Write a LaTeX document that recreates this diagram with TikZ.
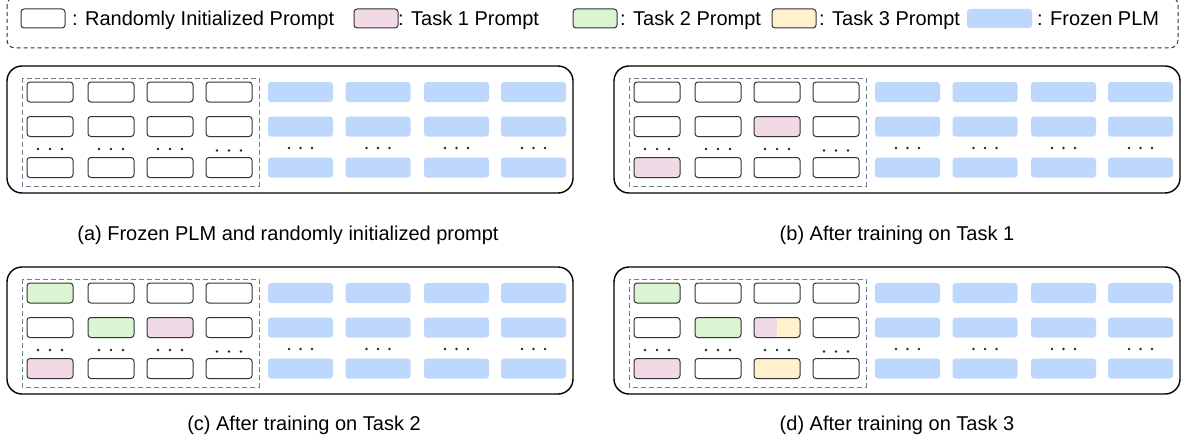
\documentclass[tikz,border=0pt]{standalone}
\usepackage{fontspec}
\setmainfont{Liberation Sans}
\definecolor{pinkc}{HTML}{F2D9E6}
\definecolor{greenc}{HTML}{DBF5D3}
\definecolor{yellowc}{HTML}{FFF1CC}
\definecolor{bluec}{HTML}{BDD7FD}
\definecolor{dashc}{HTML}{6F7D91}
\definecolor{edgec}{HTML}{333333}
\tikzset{
  pbox/.style={draw=edgec, line width=1pt, rounded corners=3pt, minimum width=46pt, minimum height=20pt, inner sep=0pt, outer sep=0pt},
  lbox/.style={pbox, minimum width=44pt, minimum height=19pt},
  fbox/.style={fill=bluec, rounded corners=3pt, minimum width=65pt, minimum height=20pt, inner sep=0pt, outer sep=0pt},
  splitfill/.style={path picture={
     \fill[pinkc] (path picture bounding box.south west) rectangle (path picture bounding box.north);
     \fill[yellowc] (path picture bounding box.south) rectangle (path picture bounding box.north east);}},
  outerbox/.style={draw=black, line width=1.4pt, rounded corners=15pt},
  innerbox/.style={draw=dashc, line width=0.9pt, dash pattern=on 5pt off 3pt},
  legendframe/.style={draw=black!80, line width=1pt, dash pattern=on 4pt off 3pt, rounded corners=8pt},
  txt/.style={font=\fontsize{20}{24}\selectfont, inner sep=0pt, text=black},
  dotc/.style={fill=black!85}
}
\def\spl{split}
\newcommand\mypanel[6]{% name, dx, dy, caption x, caption baseline y, caption
  \begin{scope}[shift={(#2,#3)}]
    \draw[outerbox] (7,66) rectangle (573,193);
    \draw[innerbox] (22,78) rectangle (259,186);
    \foreach \r/\ry in {1/92,2/126.5,3/167.5}{
      \foreach \c/\cx in {1/50,2/111,3/170,4/229}{
        \edef\fillc{\ifcsname col-#1-\r-\c\endcsname\csname col-#1-\r-\c\endcsname\else white\fi}
        \ifx\fillc\spl
          \node[pbox, fill=white, splitfill] (#1-p-\r-\c) at (\cx,\ry) {};
        \else
          \node[pbox, fill=\fillc] (#1-p-\r-\c) at (\cx,\ry) {};
        \fi
      }
      \foreach \c/\cx in {1/300.5,2/378,3/456.5,4/533.5}{
        \node[fbox] (#1-f-\r-\c) at (\cx,\ry) {};
      }
    }
    \foreach \cx/\dy in {50/149,111/149,170/149,229/150.5}{
      \foreach \k in {-12,0,12}{\fill[dotc] (\cx+\k,\dy) circle (1.3pt);}
    }
    \foreach \cx in {300.5,378,456.5,533.5}{
      \foreach \k in {-11.5,0,11.5}{\fill[dotc] (\cx+\k,148) circle (1.3pt);}
    }
  \end{scope}
  \node[txt, anchor=base] (#1-cap) at (#4,#5) {#6};
}
\expandafter\def\csname col-b-2-3\endcsname{pinkc}
\expandafter\def\csname col-b-3-1\endcsname{pinkc}
\expandafter\def\csname col-c-1-1\endcsname{greenc}
\expandafter\def\csname col-c-2-2\endcsname{greenc}
\expandafter\def\csname col-c-2-3\endcsname{pinkc}
\expandafter\def\csname col-c-3-1\endcsname{pinkc}
\expandafter\def\csname col-d-1-1\endcsname{greenc}
\expandafter\def\csname col-d-2-2\endcsname{greenc}
\expandafter\def\csname col-d-2-3\endcsname{split}
\expandafter\def\csname col-d-3-1\endcsname{pinkc}
\expandafter\def\csname col-d-3-3\endcsname{yellowc}
\begin{document}
\begin{tikzpicture}[x=1pt,y=-1pt]
\useasboundingbox (0,0) rectangle (1188,444);
\fill[white] (0,0) rectangle (1188,444);
% legend
\draw[legendframe] (7,-3) rectangle (1178,48);
\node[lbox, fill=white] (lw) at (43,18.5) {};
\node[txt, anchor=base west] (lwt) at (72,26) {: Randomly Initialized Prompt};
\node[lbox, fill=pinkc] (lp) at (376,18.5) {};
\node[txt, anchor=base west] (lpt) at (398,26) {: Task 1 Prompt};
\node[lbox, fill=greenc] (lg) at (595,18.5) {};
\node[txt, anchor=base west] (lgt) at (620,26) {: Task 2 Prompt};
\node[lbox, fill=yellowc] (ly) at (794,18.5) {};
\node[txt, anchor=base west] (lyt) at (819,26) {: Task 3 Prompt};
\node[fbox, minimum height=19pt] (lb) at (999.5,18.5) {};
\node[txt, anchor=base west] (lbt) at (1037,26) {: Frozen PLM};
% panels
\mypanel{a}{0}{0}{288}{240}{(a) Frozen PLM and randomly initialized prompt}
\mypanel{b}{607}{0}{897}{240}{(b) After training on Task 1}
\mypanel{c}{0}{201}{304}{430}{(c) After training on Task 2}
\mypanel{d}{607}{201}{897}{430}{(d) After training on Task 3}
\end{tikzpicture}
\end{document}
